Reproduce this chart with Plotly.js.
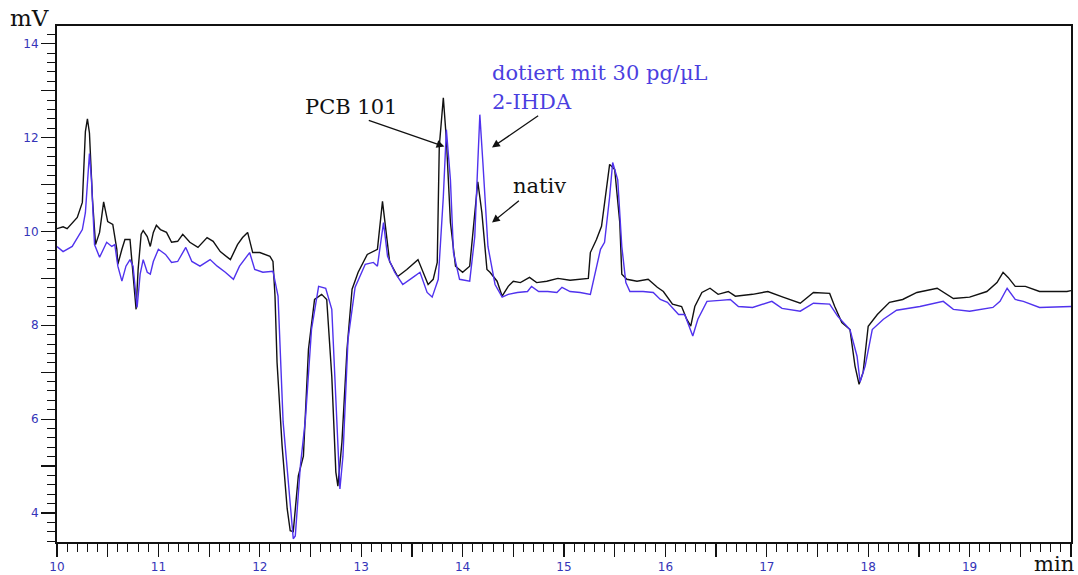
<!DOCTYPE html>
<html>
<head>
<meta charset="utf-8">
<script src="https://cdn.plot.ly/plotly-3.0.1.min.js"></script>
<style>
  html, body { margin: 0; padding: 0; background: #ffffff; }
  #chart { width: 1078px; height: 575px; }
</style>
</head>
<body>
<div id="chart"></div>
<script>
// Retention time (min) and signal (mV) — "nativ" trace (black)
const nativX = [10.00,10.06,10.10,10.20,10.25,10.28,10.30,10.32,10.35,10.38,10.42,10.46,10.50,10.55,10.59,10.60,10.64,10.67,10.72,10.75,10.78,10.80,10.83,10.85,10.89,10.92,10.95,10.98,11.02,11.08,11.13,11.19,11.24,11.31,11.39,11.48,11.54,11.61,11.71,11.78,11.83,11.88,11.93,12.00,12.10,12.13,12.15,12.17,12.22,12.27,12.30,12.33,12.38,12.43,12.48,12.54,12.61,12.66,12.71,12.75,12.77,12.81,12.86,12.91,12.97,13.06,13.16,13.21,13.23,13.28,13.36,13.45,13.56,13.60,13.66,13.71,13.75,13.77,13.81,13.84,13.88,13.93,14.00,14.07,14.12,14.15,14.19,14.24,14.27,14.34,14.39,14.45,14.50,14.57,14.66,14.73,14.83,14.94,15.06,15.24,15.26,15.32,15.37,15.42,15.45,15.50,15.55,15.57,15.62,15.72,15.83,15.92,15.98,16.07,16.16,16.21,16.25,16.29,16.36,16.44,16.52,16.62,16.69,16.86,17.01,17.16,17.33,17.46,17.62,17.67,17.74,17.82,17.87,17.91,17.95,18.00,18.09,18.21,18.34,18.48,18.68,18.84,19.00,19.17,19.27,19.33,19.38,19.45,19.55,19.69,19.96,20.00];
const nativY = [10.06,10.10,10.06,10.30,10.62,12.13,12.40,12.10,10.68,9.72,9.98,10.63,10.21,10.15,9.62,9.30,9.62,9.83,9.83,9.13,8.34,9.19,9.94,10.02,9.89,9.68,9.98,10.13,10.04,9.98,9.77,9.79,9.94,9.77,9.66,9.87,9.79,9.57,9.40,9.72,9.87,9.98,9.55,9.55,9.47,9.36,8.62,7.21,5.43,4.09,3.62,3.60,4.79,5.21,7.49,8.55,8.66,8.55,6.91,4.87,4.57,5.51,7.49,8.77,9.13,9.51,9.62,10.64,10.26,9.36,9.04,9.19,9.40,9.19,8.87,8.98,9.34,11.81,12.85,11.96,10.19,9.26,9.13,9.26,10.40,11.06,10.40,9.19,9.13,8.94,8.62,8.83,8.94,8.91,9.02,8.91,8.94,9.00,8.96,9.00,9.55,9.83,10.11,10.90,11.43,11.32,10.19,9.09,8.98,8.94,8.98,8.81,8.72,8.45,8.40,8.13,7.98,8.40,8.70,8.79,8.66,8.72,8.62,8.66,8.72,8.60,8.47,8.70,8.68,8.40,8.06,7.91,7.13,6.74,7.00,7.98,8.23,8.49,8.55,8.70,8.79,8.57,8.60,8.72,8.91,9.13,9.02,8.83,8.83,8.72,8.72,8.74];

// "dotiert mit 30 pg/µL 2-IHDA" trace (blue)
const dotX = [10.00,10.06,10.15,10.25,10.28,10.32,10.34,10.37,10.42,10.49,10.54,10.57,10.60,10.64,10.68,10.72,10.75,10.79,10.82,10.85,10.89,10.92,10.95,11.00,11.07,11.13,11.19,11.27,11.33,11.41,11.51,11.58,11.66,11.74,11.80,11.90,11.95,12.03,12.13,12.18,12.23,12.28,12.33,12.35,12.40,12.45,12.51,12.58,12.65,12.71,12.76,12.79,12.82,12.87,12.94,13.04,13.12,13.16,13.22,13.26,13.33,13.41,13.51,13.58,13.65,13.70,13.76,13.81,13.84,13.88,13.91,13.97,14.07,14.12,14.15,14.17,14.20,14.25,14.32,14.39,14.45,14.54,14.64,14.68,14.75,14.84,14.93,14.98,15.06,15.16,15.26,15.31,15.36,15.40,15.45,15.48,15.53,15.57,15.61,15.65,15.78,15.88,15.95,16.02,16.13,16.19,16.27,16.32,16.41,16.54,16.64,16.72,16.86,17.05,17.15,17.33,17.46,17.62,17.70,17.82,17.89,17.92,17.97,18.04,18.15,18.28,18.51,18.74,18.84,19.00,19.23,19.30,19.37,19.45,19.53,19.69,20.00];
const dotY = [9.68,9.57,9.68,10.04,10.40,11.66,11.10,9.72,9.45,9.77,9.68,9.72,9.26,8.94,9.26,9.40,9.26,8.38,9.09,9.40,9.13,9.09,9.36,9.62,9.51,9.34,9.36,9.66,9.36,9.26,9.40,9.26,9.13,8.98,9.26,9.55,9.19,9.13,9.15,8.62,5.94,4.66,3.45,3.51,5.00,6.00,7.91,8.83,8.79,8.34,5.94,4.51,5.21,7.70,8.81,9.30,9.34,9.26,10.19,9.47,9.13,8.87,9.02,9.13,8.70,8.60,8.98,10.74,12.17,11.10,9.55,8.98,8.94,9.89,11.47,12.49,11.47,9.68,8.87,8.60,8.66,8.70,8.72,8.83,8.72,8.72,8.70,8.81,8.72,8.70,8.66,9.13,9.62,9.77,10.74,11.47,11.10,9.68,8.91,8.72,8.72,8.70,8.55,8.49,8.23,8.23,7.77,8.13,8.51,8.53,8.55,8.40,8.38,8.51,8.36,8.30,8.47,8.45,8.19,7.91,7.34,6.79,7.13,7.91,8.13,8.32,8.40,8.51,8.34,8.30,8.38,8.51,8.79,8.55,8.51,8.38,8.40];

// Tick values / labels
const xTickVals = [10,10.5,11,11.5,12,12.5,13,13.5,14,14.5,15,15.5,16,16.5,17,17.5,18,18.5,19,19.5,20];
const xTickText = ["10","","11","","12","","13","","14","","15","","16","","17","","18","","19","",""];
const yTickVals = [4,5,6,7,8,9,10,11,12,13,14];
const yTickText = ["4","","6","","8","","10","","12","","14"];

const tickBlue = "#3434b8";
const lineBlue = "#5032ee";

const traces = [
  { x: nativX, y: nativY, type: "scatter", mode: "lines",
    line: { color: "#111111", width: 1.4 }, hoverinfo: "skip" },
  { x: dotX, y: dotY, type: "scatter", mode: "lines",
    line: { color: lineBlue, width: 1.4 }, hoverinfo: "skip" }
];

const serif = "DejaVu Serif";
const arrowBase = { xref: "x", yref: "y", axref: "x", ayref: "y", text: "",
  showarrow: true, arrowhead: 2, arrowsize: 1.2, arrowwidth: 1.3, arrowcolor: "#111111", standoff: 0 };

const layout = {
  width: 1078, height: 575,
  margin: { l: 57, r: 7, t: 26, b: 33, pad: 0 },
  paper_bgcolor: "#ffffff", plot_bgcolor: "#ffffff",
  showlegend: false, hovermode: false,
  xaxis: {
    range: [10, 20], showgrid: false, zeroline: false,
    showline: true, linecolor: "#111111", linewidth: 2, mirror: true,
    ticks: "outside", tickmode: "array", tickvals: xTickVals, ticktext: xTickText,
    ticklen: 13, tickwidth: 1.2, tickcolor: "#111111",
    tickfont: { family: "DejaVu Sans", size: 12, color: tickBlue },
    minor: { dtick: 0.1, tick0: 10, ticks: "outside", ticklen: 8, tickwidth: 1, tickcolor: "#111111", showgrid: false }
  },
  yaxis: {
    range: [3.38, 14.38], showgrid: false, zeroline: false,
    showline: true, linecolor: "#111111", linewidth: 2, mirror: true,
    ticks: "outside", tickmode: "array", tickvals: yTickVals, ticktext: yTickText,
    ticklen: 14, tickwidth: 1.2, tickcolor: "#111111",
    tickfont: { family: "DejaVu Sans", size: 12, color: tickBlue },
    minor: { dtick: 0.2, tick0: 0, ticks: "outside", ticklen: 8, tickwidth: 1, tickcolor: "#111111", showgrid: false }
  },
  annotations: [
    { xref: "paper", yref: "paper", x: -0.027, y: 1.016, xanchor: "center", yanchor: "middle",
      text: "mV", showarrow: false, font: { family: serif, size: 23, color: "#111111" } },
    { xref: "paper", yref: "paper", x: 0.983, y: -0.042, xanchor: "center", yanchor: "middle",
      text: "min", showarrow: false, font: { family: serif, size: 21, color: "#111111" } },
    { xref: "x", yref: "y", x: 12.90, y: 12.66, xanchor: "center", yanchor: "middle",
      text: "PCB 101", showarrow: false, font: { family: serif, size: 21, color: "#111111" } },
    { xref: "x", yref: "y", x: 14.27, y: 13.38, xanchor: "left", yanchor: "middle",
      text: "dotiert mit 30 pg/µL", showarrow: false, font: { family: serif, size: 21, color: "#4b3fe0" } },
    { xref: "x", yref: "y", x: 14.27, y: 12.77, xanchor: "left", yanchor: "middle",
      text: "2-IHDA", showarrow: false, font: { family: serif, size: 21, color: "#4b3fe0" } },
    { xref: "x", yref: "y", x: 14.76, y: 10.96, xanchor: "center", yanchor: "middle",
      text: "nativ", showarrow: false, font: { family: serif, size: 21, color: "#111111" } },
    Object.assign({}, arrowBase, { x: 13.82, y: 11.81, ax: 13.06, ay: 12.38 }),
    Object.assign({}, arrowBase, { x: 14.29, y: 11.79, ax: 14.76, ay: 12.49 }),
    Object.assign({}, arrowBase, { x: 14.29, y: 10.19, ax: 14.57, ay: 10.68 })
  ]
};

Plotly.newPlot("chart", traces, layout, { staticPlot: true, displayModeBar: false });
</script>
</body>
</html>
